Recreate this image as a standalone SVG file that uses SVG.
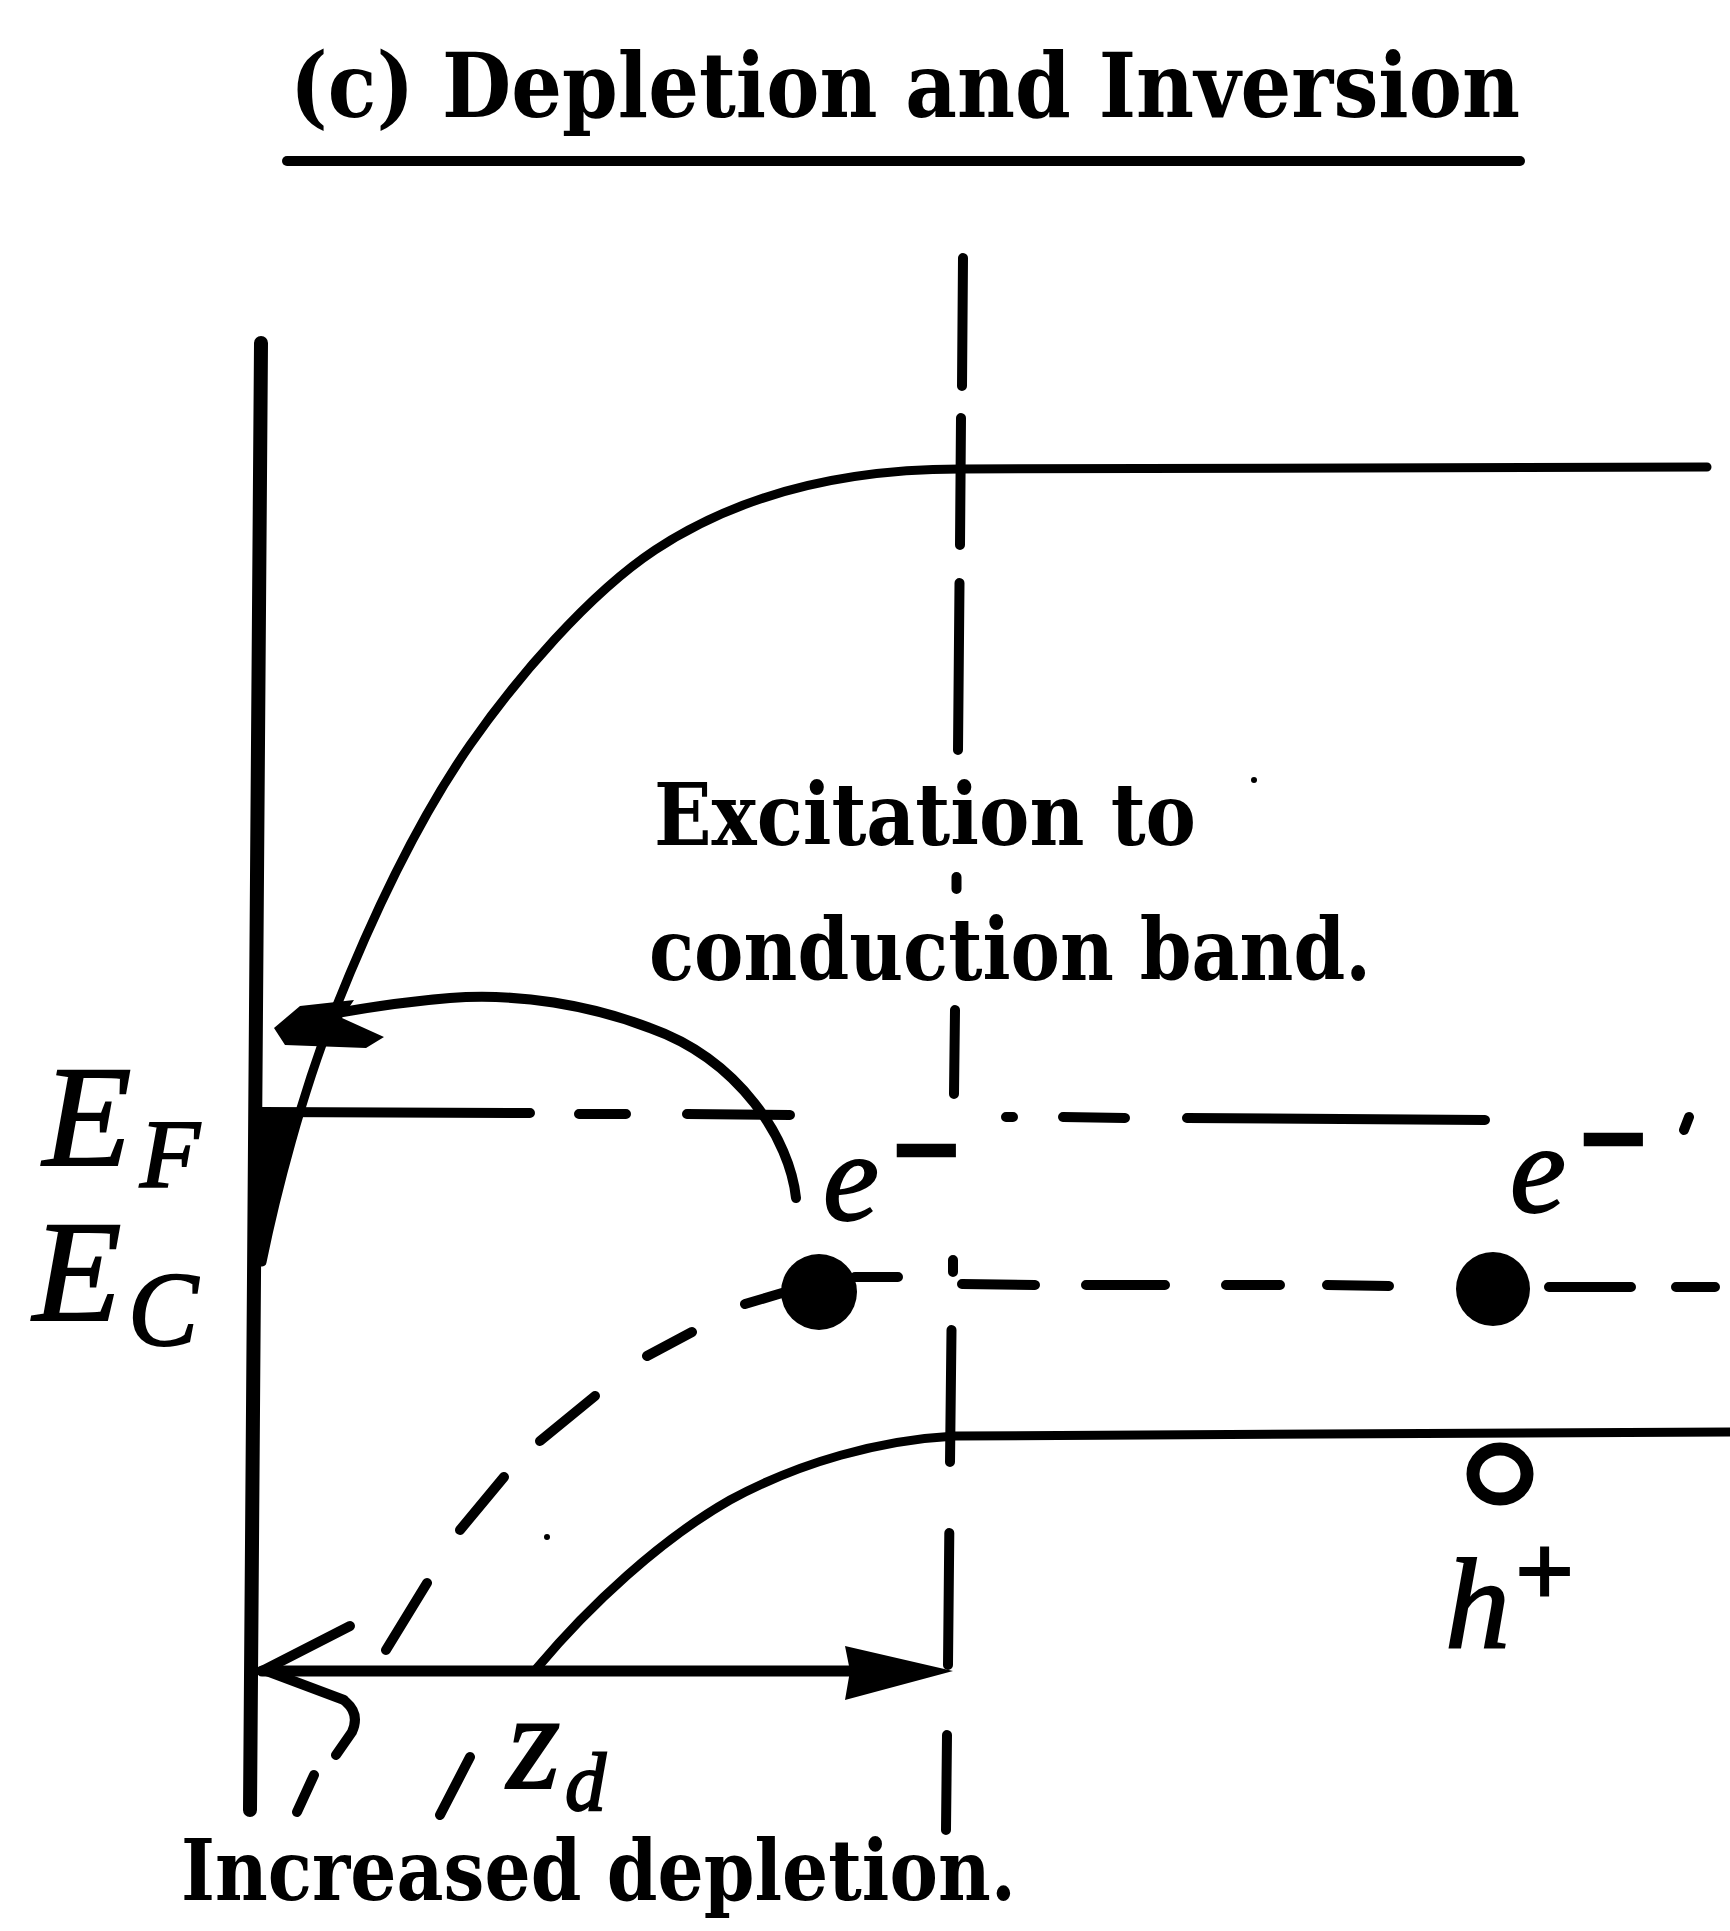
<svg xmlns="http://www.w3.org/2000/svg" width="1730" height="1931" viewBox="0 0 1730 1931">
<style>
.ln{stroke:#000;fill:none;stroke-linecap:round;stroke-linejoin:round}
.band{stroke-width:9}
.dash{stroke-width:10}
.wall{stroke-width:14}
.fill{fill:#000;stroke:none}
.txt{font-family:"DejaVu Serif","Liberation Serif",serif;font-weight:bold;fill:#000}
.math{font-family:"Liberation Serif","Times New Roman",serif;font-style:italic;fill:#000;stroke:#000;stroke-width:2}
</style>
<rect width="1730" height="1931" fill="#fff"/>

<g id="title">
<text class="txt" x="290" y="117" font-size="90" textLength="1230" lengthAdjust="spacingAndGlyphs">(c) Depletion and Inversion</text>
<line class="ln" x1="287" y1="161" x2="1520" y2="161" stroke-width="10"/>
</g>

<g id="wall">
<line class="ln wall" x1="261" y1="343" x2="250" y2="1810"/>
<path class="fill" d="M255,1108 L301,1108 L289,1150 L277,1190 L271,1220 L264,1250 L262,1262 L255,1262 Z"/>
</g>

<g id="conduction-band">
<path class="ln band" d="M1707,467 L960,469 C830,469 730,500.5 655,550 C588.6,594 515.6,679.4 470,745 C413,827 368.3,926.3 335,1010 C301.7,1093.7 276,1193.4 262,1262"/>
</g>

<g id="valence-band">
<path class="ln band" d="M1730,1432 L955,1436 C880,1440 800,1462 730,1500 C660,1540 590,1605 537,1668"/>
</g>

<g id="fermi-level">
<path class="ln dash" d="M262,1112 L530,1113 M579,1114 L626,1114 M687,1114 L790,1115 M1006,1117 L1013,1117 M1063,1117 L1125,1118 M1187,1118 L1485,1120 M1689,1117 L1684,1130"/>
</g>

<g id="ec-level">
<path class="ln dash" d="M745,1304 L782,1293 M855,1277 L898,1277 M962,1284 L1035,1285 M1086,1285 L1165,1285 M1226,1285 L1280,1285 M1327,1285 L1389,1286 M1549,1287 L1631,1287 M1676,1287 L1715,1287"/>
<path class="ln dash" d="M692,1332 L647,1356 M595,1396 L540,1441 M504,1477 L460,1530 M427,1583 L386,1650 M346,1702 Q360,1714 352,1732 L336,1755 M314,1775 L297,1812"/>
</g>

<g id="increased-depletion-curve">
<path class="ln dash" d="M470,1757 L440,1815"/>
</g>

<g id="depletion-edge">
<path class="ln dash" d="M963,258 L962,386 M961,418 L960,545 M959.5,583 L958,750 M956.5,877 L956.5,889 M955,1010 L954,1094 M953,1260 L953,1272 M951.5,1330 L950,1462 M949.3,1533 L948,1665 M947,1735 L946,1830"/>
</g>

<g id="electron-1"><circle cx="819" cy="1292" r="38" fill="#000"/></g>
<g id="electron-2"><circle cx="1493" cy="1289" r="37" fill="#000"/></g>
<g id="hole"><ellipse cx="1500" cy="1474" rx="27" ry="25" fill="none" stroke="#000" stroke-width="13"/></g>

<g id="connectors">
<path class="ln" stroke-width="10" d="M796,1198 C790,1140 740,1060 650,1028 C590,1005 520,993 450,998 C400,1002 350,1010 300,1020"/>
<path class="fill" d="M274,1028 L300,1006 L354,1000 L342,1018 L384,1037 L366,1048 L285,1045 Z"/>
<line class="ln" stroke-width="11" x1="262" y1="1671" x2="900" y2="1671"/>
<path class="fill" d="M953,1671 L845,1646 L850,1671 L845,1700 Z"/>
<polyline class="ln" stroke-width="10" points="350,1626 264,1670 344,1700"/>
</g>

<g id="labels">
<text class="math" x="43" y="1165" font-size="145">E<tspan x="140" y="1187" font-size="98">F</tspan></text>
<text class="math" x="33" y="1320" font-size="145">E<tspan x="128" y="1345" font-size="105">C</tspan></text>
<text class="math" x="823" y="1220" font-size="126">e<tspan x="888" y="1187" font-size="110" stroke-width="8">−</tspan></text>
<text class="math" x="1510" y="1212" font-size="126">e<tspan x="1575" y="1176" font-size="110" stroke-width="8">−</tspan></text>
<text class="math" x="1445" y="1648" font-size="130">h<tspan x="1510" y="1605" font-size="100" stroke-width="4">+</tspan></text>
<text class="math" x="507" y="1788" font-size="137">z<tspan x="565" y="1810" font-size="82">d</tspan></text>
<text class="txt" x="654" y="845" font-size="86" textLength="542" lengthAdjust="spacingAndGlyphs">Excitation to</text>
<text class="txt" x="649" y="980" font-size="86" textLength="722" lengthAdjust="spacingAndGlyphs">conduction band.</text>
<text class="txt" x="181" y="1900" font-size="84" textLength="835" lengthAdjust="spacingAndGlyphs">Increased depletion.</text>
</g>

<g id="specks">
<circle cx="1254" cy="780" r="3" fill="#000"/>
<circle cx="547" cy="1537" r="3" fill="#000"/>
</g>
</svg>
